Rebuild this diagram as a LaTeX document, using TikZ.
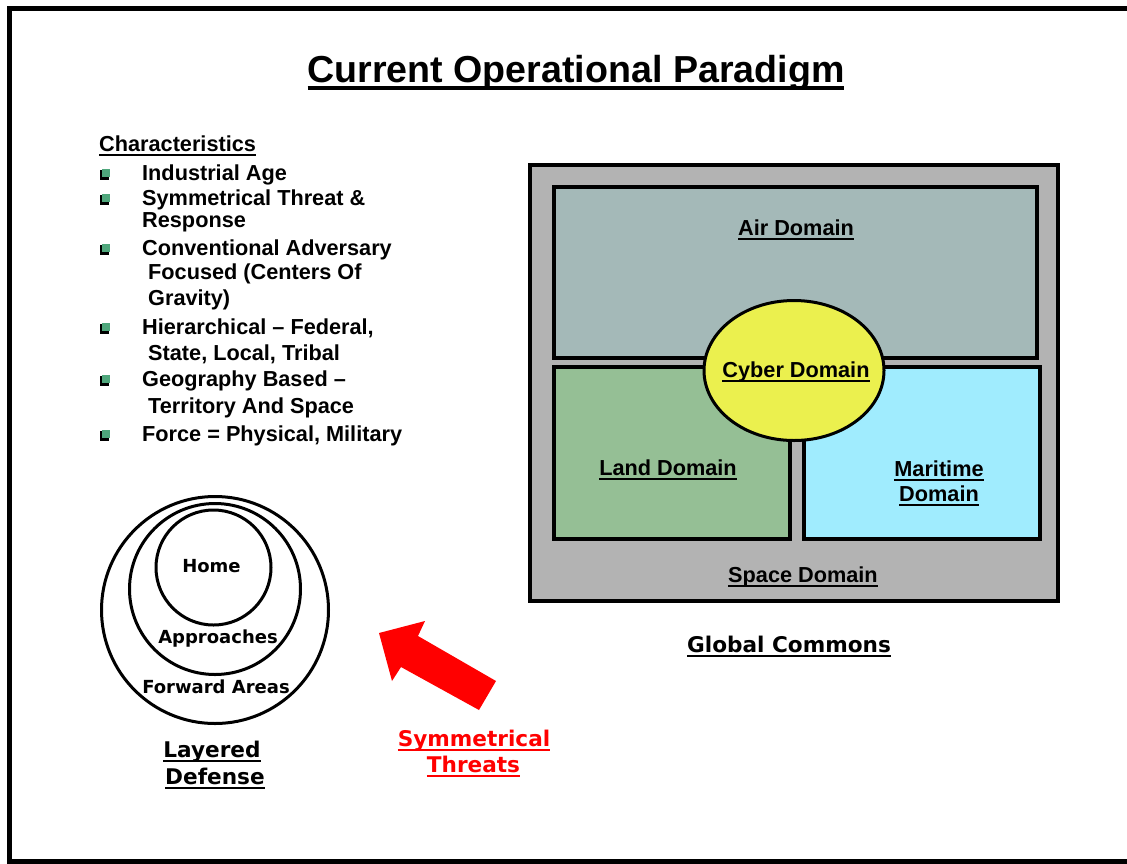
\documentclass[tikz,border=0pt]{standalone}
\usepackage{fontspec}
\setmainfont{Liberation Sans}
\newfontfamily\vfont{DejaVu Sans}
\definecolor{spacegray}{HTML}{B3B3B3}
\definecolor{airfill}{HTML}{A4B9B8}
\definecolor{landfill}{HTML}{95BF95}
\definecolor{seafill}{HTML}{A0ECFE}
\definecolor{cyberfill}{HTML}{EBF04E}
\definecolor{bulletgreen}{HTML}{4FA77C}
\newsavebox{\myulbox}
\newcommand{\myul}[3]{\sbox{\myulbox}{#3}\rlap{\usebox{\myulbox}}\rule[-#1]{\wd\myulbox}{#2}}
\newcommand{\ulthin}[1]{\myul{4.6pt}{2.1pt}{#1}}
\newcommand{\ulthick}[1]{\myul{7.6pt}{3.8pt}{#1}}
\begin{document}
\begin{tikzpicture}[x=1pt,y=-1pt,
  lbl/.style={inner sep=0pt,anchor=base,font=\bfseries\fontsize{21.7}{26}\selectfont},
  itemtxt/.style={inner sep=0pt,anchor=base west,font=\bfseries\fontsize{21.7}{26}\selectfont},
  vlbl/.style={inner sep=0pt,anchor=base,font=\vfont\bfseries\fontsize{18}{22}\selectfont},
  vbig/.style={inner sep=0pt,anchor=base,font=\vfont\bfseries\fontsize{21.6}{26}\selectfont},
  domainbox/.style={draw=black,line width=3.5pt},
  ring/.style={draw=black,line width=3pt}
]
\useasboundingbox (0,0) rectangle (1127,863);
\fill[white] (0,0) rectangle (1127,863);
% frame
\draw[line width=5pt] (1135,8) -- (9.5,8) -- (9.5,861) -- (1135,861);

% title
\node[lbl,font=\bfseries\fontsize{37.6}{44}\selectfont] (title) at (576,82.5) {\ulthick{Current Operational Paradigm}};

% characteristics
\node[itemtxt] (char) at (99,151.7) {\ulthin{Characteristics}};
\foreach \y in {180,205,255,334,386,441}{
  \fill[black] (99.5,\y-10.5) rectangle (109,\y-0.5);
  \fill[bulletgreen] (101.5,\y-11.5) rectangle (110,\y-3);
}
\node[itemtxt] (i1) at (142,180) {Industrial Age};
\node[itemtxt] (i2) at (142,205) {Symmetrical Threat \&};
\node[itemtxt] (i2b) at (142,227) {Response};
\node[itemtxt] (i3) at (142,255) {Conventional Adversary};
\node[itemtxt] (i3b) at (148,279) {Focused (Centers Of};
\node[itemtxt] (i3c) at (148,305) {Gravity)};
\node[itemtxt] (i4) at (142,334) {Hierarchical -- Federal,};
\node[itemtxt] (i4b) at (148,360) {State, Local, Tribal};
\node[itemtxt] (i5) at (142,386) {Geography Based --};
\node[itemtxt] (i5b) at (148,413) {Territory And Space};
\node[itemtxt] (i6) at (142,441) {Force = Physical, Military};

% domains
\draw[domainbox,fill=spacegray] (530,165) rectangle (1058,601);
\draw[domainbox,fill=airfill] (554,187) rectangle (1037,358);
\draw[domainbox,fill=landfill] (554,367) rectangle (790,539);
\draw[domainbox,fill=seafill] (804,367) rectangle (1040,539);
\draw[ring,fill=cyberfill] (794,370.5) ellipse [x radius=90, y radius=70];
\node[lbl] (air) at (796,235) {\ulthin{Air Domain}};
\node[lbl] (cyber) at (796,377) {\ulthin{Cyber Domain}};
\node[lbl] (land) at (668,475) {\ulthin{Land Domain}};
\node[lbl] (mar1) at (939,476) {\ulthin{Maritime}};
\node[lbl] (mar2) at (939,501) {\ulthin{Domain}};
\node[lbl] (space) at (803,582) {\ulthin{Space Domain}};
\node[vbig] (global) at (789,652) {\ulthin{Global Commons}};

% layered defense
\draw[ring] (215,610) circle [radius=113.5];
\draw[ring] (215,589) circle [radius=85.5];
\draw[ring] (213.5,567.5) circle [radius=57.5];
\node[vlbl] (home) at (211.5,572) {Home};
\node[vlbl] (appr) at (218,643) {Approaches};
\node[vlbl] (fwd) at (216,693.5) {Forward Areas};
\node[vbig] (lay1) at (212,757.5) {\ulthin{Layered}};
\node[vbig] (lay2) at (215,784) {\ulthin{Defense}};

% threat arrow
\fill[red] (379,633) -- (425,621) -- (418,636) -- (496,681) -- (479,710) -- (401,667) -- (392,681) -- cycle;
\node[vbig,text=red] (sym1) at (474,746) {\ulthin{Symmetrical}};
\node[vbig,text=red] (sym2) at (473.5,772) {\ulthin{Threats}};
\end{tikzpicture}
\end{document}
